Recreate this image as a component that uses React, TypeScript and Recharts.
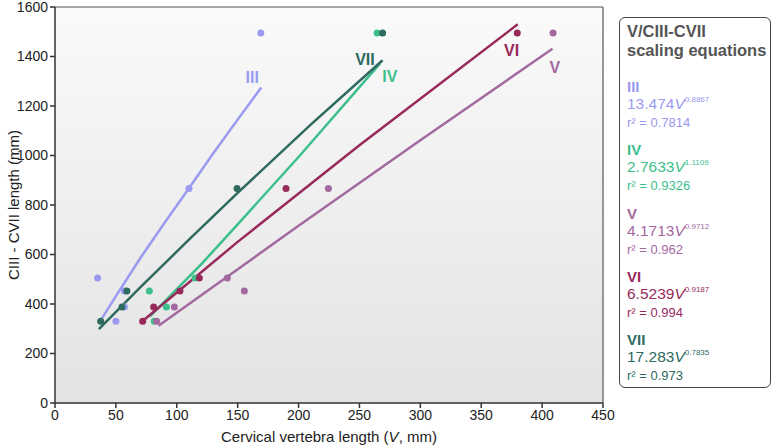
import { ScatterChart, Scatter, XAxis, YAxis, CartesianGrid, ReferenceLine, ReferenceDot, Label } from 'recharts'

// CIII-CVII neck length per specimen (mm)
const neckLengths = [330, 388, 453, 505, 867, 1495]

// cervical vertebra length V (mm) for each vertebra, same specimen order (null = hidden)
const vIII = [50, 57, 57, 35, 110, 169]
const vIV = [81.5, 91.5, 77.5, 115, null, 264.5]
const vV = [83.5, 98, 155.5, 141.5, 224.5, 409]
const vVI = [72, 81, 102.6, 118.5, 189.7, 379.6]
const vVII = [37.5, 55, 59, null, 149.5, 269]

// fitted curves
const fitIII = [
  { x: 37, y: 330 },
  { x: 50, y: 432 },
  { x: 70, y: 585 },
  { x: 90, y: 728 },
  { x: 110, y: 868 },
  { x: 130, y: 1009 },
  { x: 150, y: 1145 },
  { x: 169.4, y: 1275 },
]
const fitIV = [
  { x: 78, y: 350 },
  { x: 120, y: 560 },
  { x: 150, y: 722 },
  { x: 200, y: 994 },
  { x: 267, y: 1372 },
]
const fitV = [
  { x: 85, y: 312 },
  { x: 200, y: 716 },
  { x: 300, y: 1062 },
  { x: 408.5, y: 1431 },
]
const fitVI = [
  { x: 70, y: 323 },
  { x: 150, y: 651 },
  { x: 250, y: 1041 },
  { x: 380, y: 1530 },
]
const fitVII = [
  { x: 36, y: 298 },
  { x: 70, y: 467 },
  { x: 110, y: 660 },
  { x: 150, y: 849 },
  { x: 210, y: 1125 },
  { x: 269, y: 1385 },
]

const xTicks = [0, 50, 100, 150, 200, 250, 300, 350, 400, 450]
const yTicks = [0, 200, 400, 600, 800, 1000, 1200, 1400, 1600]

const series = [
  { name: 'III', color: '#9a9af0', v: vIII, fit: fitIII, labelAt: { x: 162, y: 1314 }, coef: '13.474', exp: '0.8867', r2: '0.7814' },
  { name: 'IV', color: '#3dbf8c', v: vIV, fit: fitIV, labelAt: { x: 275, y: 1318 }, coef: '2.7633', exp: '1.1109', r2: '0.9326' },
  { name: 'V', color: '#a3699f', v: vV, fit: fitV, labelAt: { x: 410.5, y: 1358 }, coef: '4.1713', exp: '0.9712', r2: '0.962' },
  { name: 'VI', color: '#982a5b', v: vVI, fit: fitVI, labelAt: { x: 375, y: 1425 }, coef: '6.5239', exp: '0.9187', r2: '0.994' },
  { name: 'VII', color: '#2e6a5f', v: vVII, fit: fitVII, labelAt: { x: 254.5, y: 1389 }, coef: '17.283', exp: '0.7835', r2: '0.973' },
]

const toPoints = (v: (number | null)[]) =>
  v
    .map((x, i) => ({ x, y: neckLengths[i] }))
    .filter((p) => p.x !== null)

const font = '"Liberation Sans", Arial, Helvetica, sans-serif'

function XTitle(props: any) {
  const { viewBox } = props
  const cx = viewBox.x + viewBox.width / 2
  return (
    <text x={cx} y={viewBox.y + 39} textAnchor="middle" fontSize={15} fill="#222" fontFamily={font}>
      Cervical vertebra length (<tspan fontStyle="italic">V</tspan>, mm)
    </text>
  )
}

export default function App() {
  return (
    <div style={{ position: 'absolute', left: 0, top: 0, width: 775, height: 446, fontFamily: font, background: '#fff' }}>
      <ScatterChart width={775} height={446} margin={{ top: 7, right: 172, left: 0, bottom: 0 }}>
        <defs>
          <linearGradient id="plotBg" x1="0" y1="0" x2="0" y2="1">
            <stop offset="0%" stopColor="#fafafa" />
            <stop offset="100%" stopColor="#e3e3e3" />
          </linearGradient>
        </defs>
        <CartesianGrid horizontal={false} vertical={false} fill="url(#plotBg)" />
        <XAxis
          type="number"
          dataKey="x"
          domain={[0, 450]}
          ticks={xTicks}
          interval={0}
          height={43}
          tickSize={5}
          stroke="#333"
          strokeWidth={1.5}
          tick={{ fill: '#222', fontSize: 14, fontFamily: font }}
        >
          <Label content={<XTitle />} />
        </XAxis>
        <YAxis
          type="number"
          dataKey="y"
          domain={[0, 1600]}
          ticks={yTicks}
          interval={0}
          width={55}
          tickSize={5}
          stroke="#333"
          strokeWidth={1.5}
          tick={{ fill: '#222', fontSize: 14, fontFamily: font }}
        >
          <Label
            value="CIII - CVII length (mm)"
            angle={-90}
            position="insideLeft"
            offset={14}
            style={{ textAnchor: 'middle', fontSize: 15, fill: '#222', fontFamily: font }}
          />
        </YAxis>
        <ReferenceLine y={1600} stroke="#555" strokeWidth={1.2} />
        <ReferenceLine x={450} stroke="#555" strokeWidth={1.2} />

        {series.map((s) => (
          <Scatter
            key={`fit-${s.name}`}
            data={s.fit}
            line={{ stroke: s.color, strokeWidth: 2.5 }}
            lineType="joint"
            shape={() => <g />}
            isAnimationActive={false}
          />
        ))}

        {series.map((s) => (
          <Scatter
            key={`pts-${s.name}`}
            data={toPoints(s.v)}
            fill={s.color}
            shape={(p: any) => <circle cx={p.cx} cy={p.cy} r={3.5} fill={s.color} />}
            isAnimationActive={false}
          />
        ))}

        {series.map((s) => (
          <ReferenceDot
            key={`lbl-${s.name}`}
            x={s.labelAt.x}
            y={s.labelAt.y}
            r={0}
            fill="none"
            stroke="none"
            label={{ value: s.name, position: 'center', fill: s.color, fontSize: 16, fontWeight: 'bold', fontFamily: font }}
          />
        ))}
      </ScatterChart>

      <div
        style={{
          position: 'absolute',
          left: 619,
          top: 17,
          width: 152,
          height: 371,
          border: '1.5px solid #444',
          borderRadius: 6,
          background: '#fff',
          boxSizing: 'border-box',
        }}
      >
        <div style={{ position: 'absolute', left: 7, top: 4, fontSize: 16.5, fontWeight: 'bold', color: '#555', lineHeight: '19px', whiteSpace: 'nowrap' }}>
          V/CIII-CVII
          <br />
          scaling equations
        </div>
        {series.map((s, i) => (
          <div
            key={`leg-${s.name}`}
            style={{ position: 'absolute', left: 7, top: 60 + i * 63.3, color: s.color, whiteSpace: 'nowrap' }}
          >
            <div style={{ fontSize: 15, fontWeight: 'bold', lineHeight: '18px' }}>{s.name}</div>
            <div style={{ fontSize: 15.5, lineHeight: '16px' }}>
              {s.coef}
              <span style={{ fontStyle: 'italic' }}>V</span>
              <span style={{ fontSize: 8, position: 'relative', top: -7 }}>{s.exp}</span>
            </div>
            <div style={{ fontSize: 13, lineHeight: '16px' }}>r² = {s.r2}</div>
          </div>
        ))}
      </div>
    </div>
  )
}
